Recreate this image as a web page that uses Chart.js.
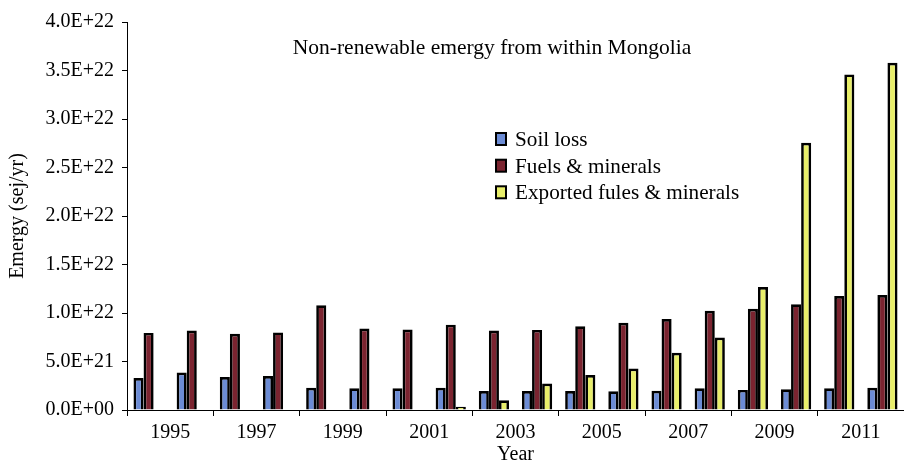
<!DOCTYPE html>
<html>
<head>
<meta charset="utf-8">
<script src="https://cdn.jsdelivr.net/npm/chart.js@4.4.1/dist/chart.umd.min.js"></script>
<style>
  html, body { margin: 0; padding: 0; background: #fff; overflow: hidden; }
  #wrap { width: 904px; height: 463px; position: relative; }
</style>
</head>
<body>
<div id="wrap"><canvas id="c" width="904" height="463"></canvas></div>
<script>
const years = ['1995','1996','1997','1998','1999','2000','2001','2002','2003','2004','2005','2006','2007','2008','2009','2010','2011','2012'];
const soilLoss = [3.3e21, 3.86e21, 3.4e21, 3.5e21, 2.3e21, 2.24e21, 2.24e21, 2.3e21, 1.96e21, 1.96e21, 1.96e21, 1.93e21, 1.98e21, 2.24e21, 2.07e21, 2.14e21, 2.24e21, 2.3e21];
const fuelsMinerals = [7.95e21, 8.2e21, 7.85e21, 8.0e21, 1.08e22, 8.4e21, 8.3e21, 8.8e21, 8.2e21, 8.26e21, 8.64e21, 9.0e21, 9.37e21, 1.023e22, 1.043e22, 1.09e22, 1.174e22, 1.185e22];
const exportedFuels = [0, 0, 0, 0, 0, 0, 0, 3.4e20, 1.0e21, 2.72e21, 3.6e21, 4.27e21, 5.89e21, 7.47e21, 1.268e22, 2.755e22, 3.46e22, 3.58e22];
const seriesNames = ['Soil loss', 'Fuels & minerals', 'Exported fules & minerals'];
const titleText = 'Non-renewable emergy from within Mongolia';

const SERIF = "'Liberation Serif', 'Times New Roman', serif";

function sci(v) {
  if (v === 0) return '0.0E+00';
  let s = v.toExponential(1).toUpperCase();
  return s.replace(/E([+-])(\d)$/, 'E$10$2');
}

const overlay = {
  id: 'overlay',
  afterDraw(chart) {
    const ctx = chart.ctx;
    ctx.save();
    ctx.fillStyle = '#000';
    ctx.font = '21.5px ' + SERIF;
    ctx.textAlign = 'center';
    ctx.textBaseline = 'alphabetic';
    ctx.fillText(titleText, 492, 54);
    ctx.font = '21.2px ' + SERIF;
    ctx.textAlign = 'left';
    const baselines = [146, 172.7, 199.3];
    chart.data.datasets.forEach((ds, i) => {
      const b = baselines[i];
      ctx.fillStyle = ds.backgroundColor;
      ctx.fillRect(496, b - 13, 10, 12);
      ctx.strokeStyle = '#000';
      ctx.lineWidth = 2;
      ctx.strokeRect(496, b - 13, 10, 12);
      ctx.fillStyle = '#000';
      ctx.fillText(ds.label, 515, b);
    });
    ctx.restore();
  }
};

new Chart(document.getElementById('c'), {
  type: 'bar',
  data: {
    labels: years,
    datasets: [
      { label: seriesNames[0], data: soilLoss, backgroundColor: '#6C8CD5', borderColor: '#000', borderWidth: 2.7, inflateAmount: 0 },
      { label: seriesNames[1], data: fuelsMinerals, backgroundColor: '#7B2430', borderColor: '#000', borderWidth: 2.7, inflateAmount: 0 },
      { label: seriesNames[2], data: exportedFuels, backgroundColor: '#E8EE6A', borderColor: '#000', borderWidth: 2.7, inflateAmount: 0 }
    ]
  },
  options: {
    responsive: false,
    animation: false,
    layout: { padding: { top: 22, right: 0, bottom: 0, left: 0 } },
    categoryPercentage: 0.7,
    barPercentage: 1.0,
    plugins: {
      legend: { display: false },
      tooltip: { enabled: false },
      title: { display: false }
    },
    scales: {
      x: {
        offset: true,
        grid: {
          offset: true,
          drawOnChartArea: false,
          drawTicks: true,
          tickLength: 6,
          color: (ctx) => (ctx.index !== undefined && ctx.index % 2 === 0) ? '#000' : 'rgba(0,0,0,0)',
          lineWidth: 1
        },
        border: { display: true, color: '#000', width: 1 },
        ticks: {
          autoSkip: false,
          maxRotation: 0,
          minRotation: 0,
          color: '#000',
          font: { family: SERIF, size: 20 },
          padding: 5,
          labelOffset: 21.6,
          callback: function(val, i) { return i % 2 === 0 ? years[i] : ''; }
        },
        title: {
          display: true,
          text: 'Year',
          color: '#000',
          font: { family: SERIF, size: 20, lineHeight: 0.8 },
          padding: 0
        },
        afterFit(scale) { scale.height = 53; }
      },
      y: {
        min: 0,
        max: 4e22,
        grid: {
          drawOnChartArea: false,
          drawTicks: true,
          tickLength: 5,
          color: '#000',
          lineWidth: 1
        },
        border: { display: true, color: '#000', width: 1 },
        ticks: {
          stepSize: 5e21,
          color: '#000',
          font: { family: SERIF, size: 20 },
          padding: 8,
          callback: (v) => sci(v)
        },
        title: {
          display: true,
          text: 'Emergy (sej/yr)',
          color: '#000',
          font: { family: SERIF, size: 20 },
          padding: { top: 6, bottom: 0 }
        },
        afterFit(scale) { scale.width = 127; }
      }
    }
  },
  plugins: [overlay]
});
</script>
</body>
</html>
